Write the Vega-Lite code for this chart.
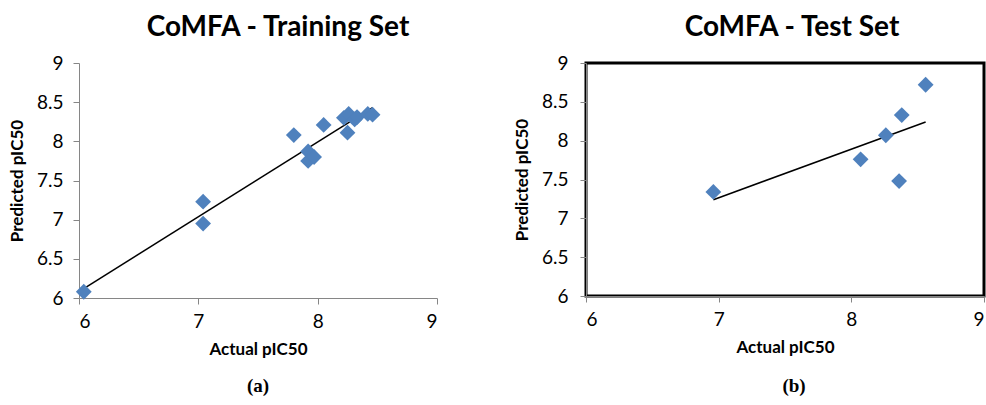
{
  "$schema": "https://vega.github.io/schema/vega-lite/v6.json",
  "background": "white",
  "padding": {"left": 8, "top": 12, "right": 0, "bottom": 0},
  "datasets": {
    "train": [
      {"actual": 6.04, "predicted": 6.08},
      {"actual": 7.04, "predicted": 7.23},
      {"actual": 7.04, "predicted": 6.95},
      {"actual": 7.80, "predicted": 8.08},
      {"actual": 7.92, "predicted": 7.87},
      {"actual": 7.92, "predicted": 7.75},
      {"actual": 7.97, "predicted": 7.80},
      {"actual": 8.05, "predicted": 8.21},
      {"actual": 8.22, "predicted": 8.30},
      {"actual": 8.26, "predicted": 8.35},
      {"actual": 8.25, "predicted": 8.11},
      {"actual": 8.31, "predicted": 8.28},
      {"actual": 8.33, "predicted": 8.31},
      {"actual": 8.42, "predicted": 8.35},
      {"actual": 8.46, "predicted": 8.34}
    ],
    "trainFit": [
      {"actual": 6.05, "predicted": 6.13},
      {"actual": 8.46, "predicted": 8.43}
    ],
    "test": [
      {"actual": 6.96, "predicted": 7.34},
      {"actual": 8.07, "predicted": 7.76},
      {"actual": 8.26, "predicted": 8.07},
      {"actual": 8.36, "predicted": 7.48},
      {"actual": 8.38, "predicted": 8.33},
      {"actual": 8.56, "predicted": 8.72}
    ],
    "testFit": [
      {"actual": 6.96, "predicted": 7.24},
      {"actual": 8.56, "predicted": 8.24}
    ]
  },
  "config": {
    "view": {"stroke": null},
    "axis": {
      "grid": false,
      "domainColor": "#868686",
      "tickColor": "#868686",
      "tickSize": 6,
      "labelFont": "Lato",
      "labelFontSize": 19,
      "labelColor": "black",
      "labelOverlap": false,
      "format": ".2~f",
      "titleFont": "Lato",
      "titleFontSize": 17,
      "titleFontWeight": "bold",
      "titleColor": "black"
    },
    "title": {"font": "Lato", "fontSize": 28, "fontWeight": "bold", "color": "black"}
  },
  "spacing": 73,
  "hconcat": [
    {
      "title": {"text": "(a)", "orient": "bottom", "anchor": "middle", "font": "Liberation Serif", "fontSize": 19, "fontWeight": "bold", "offset": 20, "dx": 35},
      "vconcat": [
        {
          "title": {"text": "CoMFA - Training Set", "offset": 12, "dx": 20},
          "width": 358,
          "height": 235,
          "encoding": {
            "x": {"field": "actual", "type": "quantitative", "scale": {"domain": [6, 9], "nice": false, "zero": false},
                  "axis": {"title": "Actual pIC50", "values": [6, 7, 8, 9], "labelPadding": 8, "titlePadding": 10}},
            "y": {"field": "predicted", "type": "quantitative", "scale": {"domain": [6, 9], "nice": false, "zero": false},
                  "axis": {"title": "Predicted pIC50", "values": [6, 6.5, 7, 7.5, 8, 8.5, 9], "labelPadding": 10, "titlePadding": 10}}
          },
          "layer": [
            {
              "data": {"name": "trainFit"},
              "mark": {"type": "line", "color": "black", "strokeWidth": 1.5}
            },
            {
              "data": {"name": "train"},
              "mark": {"type": "point", "shape": "diamond", "filled": true, "size": 250, "color": "#4F81BD", "opacity": 1}
            }
          ]
        }
      ]
    },
    {
      "title": {"text": "(b)", "orient": "bottom", "anchor": "middle", "font": "Liberation Serif", "fontSize": 19, "fontWeight": "bold", "offset": 20, "dx": 45},
      "vconcat": [
        {
          "title": {"text": "CoMFA - Test Set", "offset": 12, "dx": 7},
          "width": 398,
          "height": 233,
          "view": {"stroke": "black", "strokeWidth": 3},
          "encoding": {
            "x": {"field": "actual", "type": "quantitative", "scale": {"domain": [6, 9], "nice": false, "zero": false},
                  "axis": {"title": "Actual pIC50", "values": [6, 7, 8, 9], "labelPadding": 8, "titlePadding": 10, "labelFlush": true}},
            "y": {"field": "predicted", "type": "quantitative", "scale": {"domain": [6, 9], "nice": false, "zero": false},
                  "axis": {"title": "Predicted pIC50", "values": [6, 6.5, 7, 7.5, 8, 8.5, 9], "labelPadding": 12, "titlePadding": 10}}
          },
          "layer": [
            {
              "data": {"name": "testFit"},
              "mark": {"type": "line", "color": "black", "strokeWidth": 1.5}
            },
            {
              "data": {"name": "test"},
              "mark": {"type": "point", "shape": "diamond", "filled": true, "size": 250, "color": "#4F81BD", "opacity": 1}
            }
          ]
        }
      ]
    }
  ]
}
